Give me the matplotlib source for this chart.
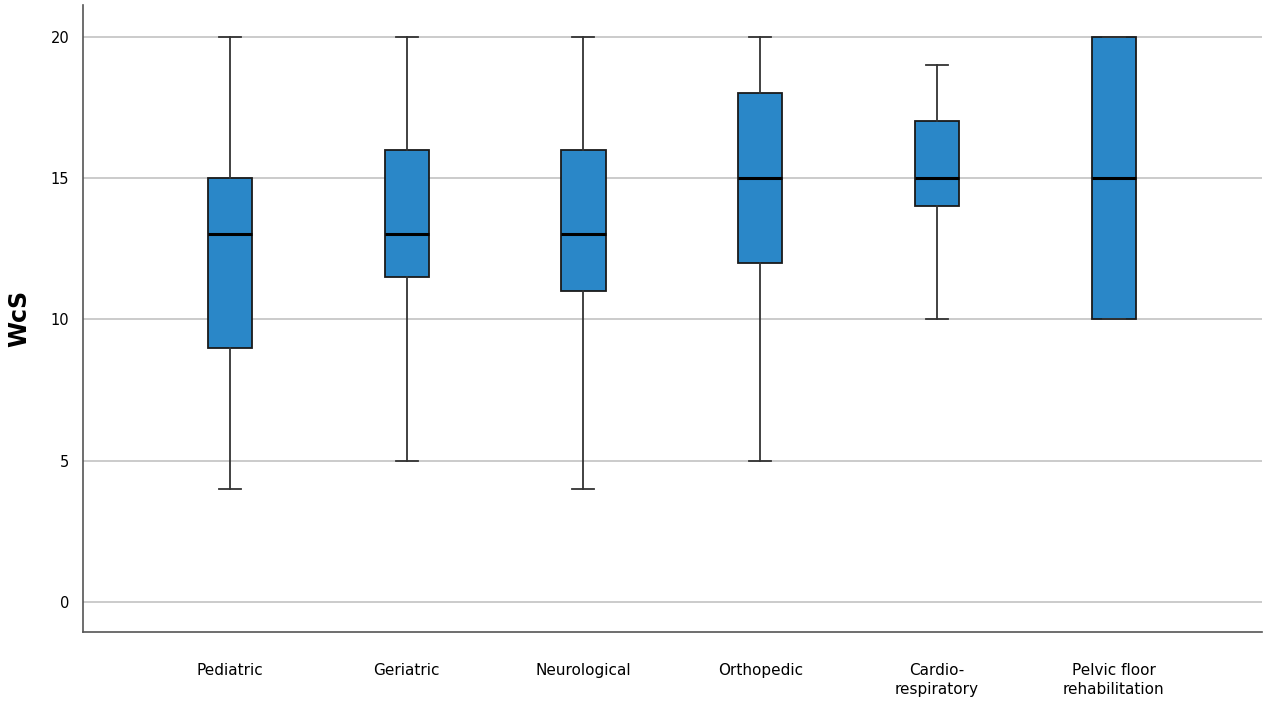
import matplotlib
matplotlib.use("Agg")
import matplotlib.pyplot as plt

###--- DATA ---###
groups = ["Pediatric", "Geriatric", "Neurological", "Orthopedic",
          "Cardio-\nrespiratory", "Pelvic floor\nrehabilitation"]
wmin = [4, 5, 4, 5, 10, 10]
q1 = [9, 11.5, 11, 12, 14, 10]
med = [13, 13, 13, 15, 15, 15]
q3 = [15, 16, 16, 18, 17, 20]
wmax = [20, 20, 20, 20, 19, 20]

###--- PLOT ---###
stats = []
for i in range(len(groups)):
    stats.append({"whislo": wmin[i], "q1": q1[i], "med": med[i],
                  "q3": q3[i], "whishi": wmax[i], "fliers": []})

fig = plt.figure(figsize=(12.68, 7.01), dpi=100)
ax = fig.add_axes([0.0655, 0.0984, 0.9295, 0.895])

for y in [0, 5, 10, 15, 20]:
    ax.axhline(y, color="#bdbdbd", lw=1.1, zorder=0)

ax.bxp(stats, positions=range(1, 7), widths=0.25, patch_artist=True,
       showfliers=False,
       boxprops=dict(facecolor="#2a87c8", edgecolor="#1a1a1a", lw=1.3),
       medianprops=dict(color="black", lw=2.2),
       whiskerprops=dict(color="#333333", lw=1.3),
       capprops=dict(color="#333333", lw=1.3),
       capwidths=0.125)

ax.set_xlim(0.169, 6.837)
ax.set_ylim(-1.06, 21.13)
ax.set_yticks([0, 5, 10, 15, 20])
ax.set_xticks(range(1, 7))
ax.set_xticklabels(groups, fontsize=11, linespacing=1.35)
ax.tick_params(axis="both", length=0)
ax.tick_params(axis="x", pad=22)
ax.tick_params(axis="y", pad=10, labelsize=10.5)
ax.set_ylabel("WcS", fontsize=17, fontweight="bold", labelpad=14)

for s in ["top", "right"]:
    ax.spines[s].set_visible(False)
for s in ["left", "bottom"]:
    ax.spines[s].set_color("#555555")
    ax.spines[s].set_linewidth(1.2)

fig.savefig("out.png", dpi=100)
